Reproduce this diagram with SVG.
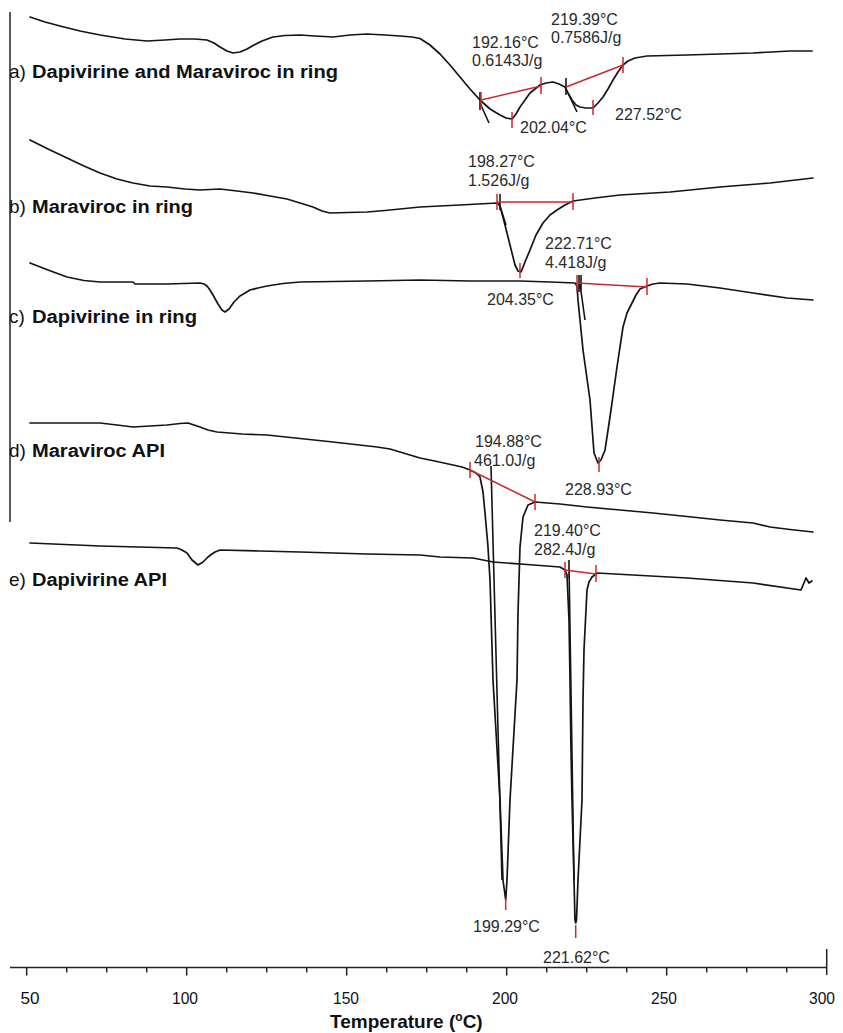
<svg xmlns="http://www.w3.org/2000/svg" width="843" height="1033" viewBox="0 0 843 1033">
<style>
.crv{fill:none;stroke:#141414;stroke-width:1.7;stroke-linejoin:round;stroke-linecap:round}
.blk{fill:none;stroke:#141414;stroke-width:1.6}
.red{fill:none;stroke:#c62a2f;stroke-width:1.5}
.ann{font-family:"Liberation Sans",Arial,sans-serif;font-size:16px;fill:#2a2a2a}
.nm{font-family:"Liberation Sans",Arial,sans-serif;font-size:18px;font-weight:bold;fill:#111}
.lt{font-family:"Liberation Sans",Arial,sans-serif;font-size:19px;fill:#111}
.tk{font-family:"Liberation Sans",Arial,sans-serif;font-size:17px;fill:#111}
.ax{fill:none;stroke:#222;stroke-width:1.5}
</style>
<rect width="843" height="1033" fill="#ffffff"/>
<g id="axes">
<line class="ax" x1="10" y1="12" x2="10" y2="522"/>
<line class="ax" x1="10" y1="967.5" x2="827" y2="967.5"/>
<path class="ax" d="M26.7 967.5v8M66.7 967.5v5M106.7 967.5v5M146.7 967.5v5M186.7 967.5v8M226.7 967.5v5M266.7 967.5v5M306.7 967.5v5M346.7 967.5v8M386.7 967.5v5M426.7 967.5v5M466.7 967.5v5M506.7 967.5v8M546.7 967.5v5M586.7 967.5v5M626.7 967.5v5M666.7 967.5v8M706.7 967.5v5M746.7 967.5v5M786.7 967.5v5M826.7 949v26"/>
<text class="tk" x="30" y="1004" text-anchor="middle" textLength="19" lengthAdjust="spacingAndGlyphs">50</text>
<text class="tk" x="185" y="1004" text-anchor="middle" textLength="26" lengthAdjust="spacingAndGlyphs">100</text>
<text class="tk" x="346" y="1004" text-anchor="middle" textLength="26" lengthAdjust="spacingAndGlyphs">150</text>
<text class="tk" x="505" y="1004" text-anchor="middle" textLength="26" lengthAdjust="spacingAndGlyphs">200</text>
<text class="tk" x="664" y="1004" text-anchor="middle" textLength="26" lengthAdjust="spacingAndGlyphs">250</text>
<text class="tk" x="822" y="1004" text-anchor="middle" textLength="26" lengthAdjust="spacingAndGlyphs">300</text>
<text x="330" y="1028" font-family="Liberation Sans, Arial, sans-serif" font-size="19" font-weight="bold" fill="#111">Temperature (<tspan font-size="12" dy="-7">o</tspan><tspan dy="7">C)</tspan></text>
</g>
<g id="curve-a">
<path class="crv" d="M30 17L45 22L60 26L80 31L100 35L125 39L147 41L165 40L180 39L195 39L207 40L214 43L220 47L227 51L233 53L240 52L247 49L254 45L262 41L273 37L285 35.5L300 35L315 36L333 37L350 35L367 34L385 35L400 36L412 37L420 38.5L430 45L440 54L450 65L460 77L470 89L480 100L490 109L500 115L506 118L512 119L516 114L520 107L525 100L530 93L535 89L540 85L546 83L553 82L559 84L565 87L568 93L572 100L576 105L580 107L586 108L593 108L598 103L603 97L608 89L613 80L618 72L623 65L628 61L635 58L647 56L667 55.5L687 55L720 54L753 53L790 51L812 51"/>
<path class="blk" d="M480 103L489 123M568 93L577 112M480 92V110M566 78V95"/>
<path class="red" d="M481 100L541 86M566 87L623 65M541 77V94M623 57V73M512 112V128M593 100V115M481 92V108"/>
<text class="lt" x="9" y="78">a)</text>
<text class="nm" x="32" y="78" textLength="306" lengthAdjust="spacingAndGlyphs">Dapivirine and Maraviroc in ring</text>
<text class="ann" x="472" y="48">192.16°C</text>
<text class="ann" x="472" y="66">0.6143J/g</text>
<text class="ann" x="551" y="25">219.39°C</text>
<text class="ann" x="551" y="43">0.7586J/g</text>
<text class="ann" x="520" y="133">202.04°C</text>
<text class="ann" x="615" y="120">227.52°C</text>
</g>
<g id="curve-b">
<path class="crv" d="M30 140L48 149L67 158L84 166L100 173L117 179L133 183L150 186L167 187L185 189L200 190L210 189.5L220 189L237 191L253 193L270 196L287 199L300 203L313 207L322 211L330 213L348 212.5L367 212L385 210.5L400 209L420 207L460 205L497 203L500 206L505 225L510 245L515 265L518 271L521 272L525 262L530 250L536 235L543 223L550 215L557 210L565 205L573 201L595 198L620 195L645 193.5L670 192L695 189.5L720 187L745 185L770 183L813 178"/>
<path class="blk" d="M500 194V210M499 203L506 225"/>
<path class="red" d="M497 202H573M497 194V210M573 193V210M520 263V278"/>
<text class="lt" x="9" y="213">b)</text>
<text class="nm" x="32" y="213" textLength="161" lengthAdjust="spacingAndGlyphs">Maraviroc in ring</text>
<text class="ann" x="468" y="167">198.27°C</text>
<text class="ann" x="468" y="186">1.526J/g</text>
<text class="ann" x="545" y="249">222.71°C</text>
<text class="ann" x="545" y="268">4.418J/g</text>
<text class="ann" x="487" y="305">204.35°C</text>
</g>
<g id="curve-c">
<path class="crv" d="M30 263L48 270L67 277L84 280.5L100 282L133 282L135 284L167 284L200 283L204 284L207 286L210 290L213 295L218 304L222 310L225 312L229 309L234 302L240 296L245 293L250 290L258 288L267 286L283 283.5L300 282L367 281L420 280L470 281L520 281L550 282L575 283L577 286L578 300L583 350L590 400L594 453L598 463L601 460L605 450L610 417L617 367L623 327L627 313L632 303L636 295L640 289L647 286L653 284L660 283L687 284L720 288L753 293L787 298L813 300"/>
<path class="blk" d="M579 275V292M581 275V292M580 284L585 320"/>
<path class="red" d="M577 283L647 287M577 275V292M647 278V295M599 457V472"/>
<text class="lt" x="9" y="323">c)</text>
<text class="nm" x="32" y="323" textLength="165" lengthAdjust="spacingAndGlyphs">Dapivirine in ring</text>
<text class="ann" x="565" y="495">228.93°C</text>
</g>
<g id="curve-d">
<path class="crv" d="M30 423L100 423L117 425L133 427L150 426L167 425L180 423.5L188 423L194 425L200 427L208 430L217 432L242 434L267 435L300 438.5L333 442L355 444.5L377 447L390 449L400 452L410 455L420 458L437 461.5L453 465L462 467L470 470L476 473L480 477L483 492L485 513L488 547L490 580L493 680L500 800L503 880L505.7 900L507 880L510 800L517 680L518 613L520 547L523 517L528 505L535 502L560 504L587 507L620 510L653 513L687 516.5L720 520L753 523L770 527L790 529.5L813 532"/>
<path class="blk" d="M491 466L502 880"/>
<path class="red" d="M470 470L535 502M470 462V478M535 494V510M505.7 898V910"/>
<text class="lt" x="9" y="457">d)</text>
<text class="nm" x="32" y="457" textLength="133" lengthAdjust="spacingAndGlyphs">Maraviroc API</text>
<text class="ann" x="475" y="447">194.88°C</text>
<text class="ann" x="474" y="466">461.0J/g</text>
<text class="ann" x="473" y="932">199.29°C</text>
</g>
<g id="curve-e">
<path class="crv" d="M30 543L100 546L177 548L182 550L187 553L192 560L198 565L203 562L208 557L212 554L215 552L220 550L260 551L300 552L367 554L420 555L440 557L473 558L493 562L527 564.5L560 567L565 570L567 575L569 620L570 680L571 750L572 800L574 880L575 920L575.7 923L576.5 920L578 880L582 800L583 700L584 650L587 590L589 582L592 577L596 574L597 573L642 575.5L687 578L720 580.5L753 583L801 590L806 578L809 583L812 581"/>
<path class="blk" d="M569 560V578M569 565L574 880"/>
<path class="red" d="M565 570L596 574M565 562V578M596 565V582M575.7 925V938"/>
<text class="lt" x="9" y="586">e)</text>
<text class="nm" x="32" y="586" textLength="135" lengthAdjust="spacingAndGlyphs">Dapivirine API</text>
<text class="ann" x="534" y="536">219.40°C</text>
<text class="ann" x="534" y="555">282.4J/g</text>
<text class="ann" x="543" y="963">221.62°C</text>
</g>
</svg>
